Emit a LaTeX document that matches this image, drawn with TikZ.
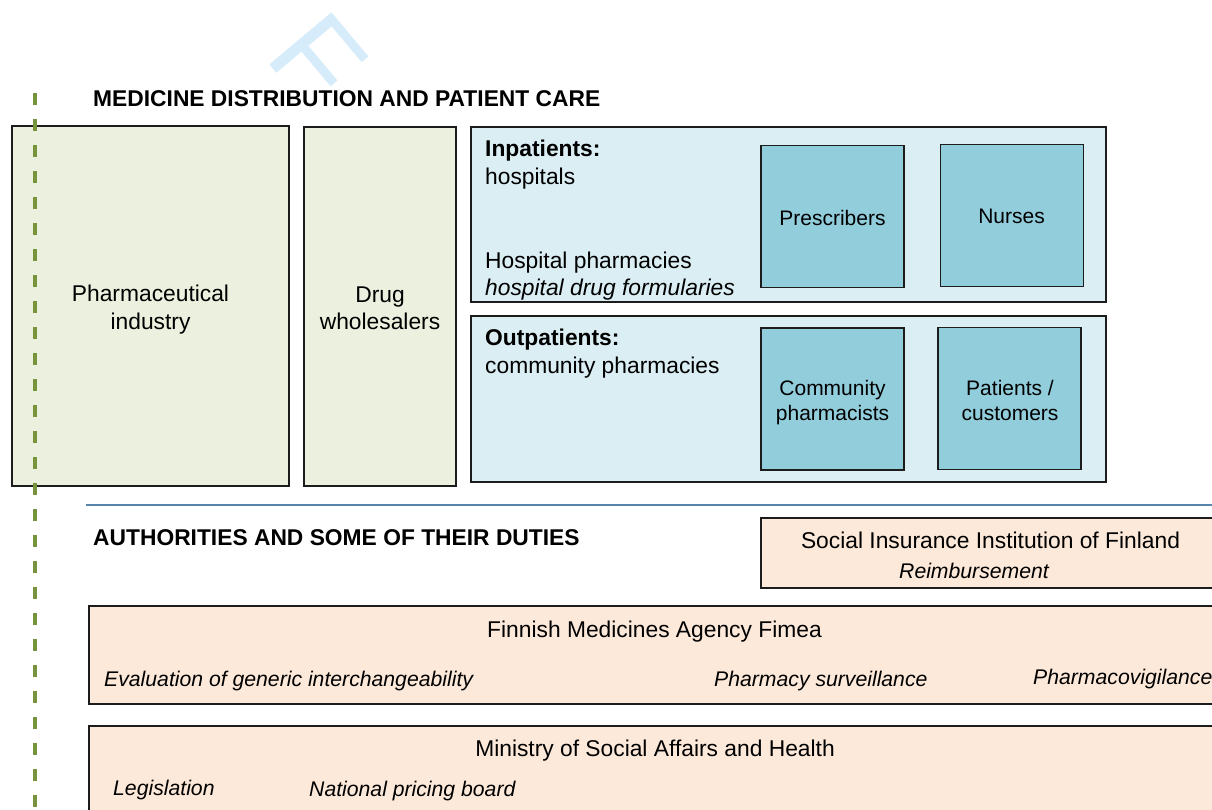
\documentclass[tikz,border=0pt]{standalone}
\usepackage{fontspec}
\setmainfont{Liberation Sans}
\definecolor{edge}{RGB}{28,28,28}
\definecolor{greenfill}{RGB}{235,241,222}
\definecolor{carefill}{RGB}{218,238,243}
\definecolor{rolefill}{RGB}{146,205,220}
\definecolor{agencyfill}{RGB}{253,233,217}
\definecolor{rulecol}{RGB}{88,132,176}
\definecolor{dashcol}{RGB}{119,147,60}
\definecolor{wmblue}{RGB}{214,236,250}
\newcommand\fbody{\fontsize{22.8}{28}\selectfont}
\newcommand\frole{\fontsize{21}{25}\selectfont}
\newcommand\fhead{\fontsize{22.8}{28}\selectfont\bfseries}
\newcommand\fduty{\fontsize{21.2}{25}\selectfont\itshape}
\newcommand\fitem{\fontsize{22.8}{28}\selectfont\itshape}
\begin{document}
\begin{tikzpicture}[x=1pt,y=-1pt,
  frame/.style={draw=edge, line width=1.5pt, inner sep=0pt, align=center},
  supply/.style={frame, fill=greenfill},
  care/.style={frame, fill=carefill},
  role/.style={frame, fill=rolefill, minimum width=143pt, minimum height=142pt},
  agency/.style={frame, fill=agencyfill},
  lbl/.style={inner sep=0pt, anchor=base west},
  ctr/.style={inner sep=0pt, anchor=base},
  rule/.style={draw=rulecol, line width=1.8pt},
  timeline/.style={draw=dashcol, line width=3.5pt, dash pattern=on 12pt off 14pt}]
\clip (0,0) rectangle (1212,809);
\fill[white] (0,0) rectangle (1212,809);

% faint watermark letter
\node[inner sep=0pt, anchor=base west, rotate=-50, text=wmblue,
      font=\fontsize{118}{118}\selectfont] (wm) at (263,57.5) {F};

% ---- distribution chain and patient care ----
\node[lbl, font=\fhead] (distTitle) at (93,106) {MEDICINE DISTRIBUTION AND PATIENT CARE};

\node[supply, minimum width=277pt, minimum height=360pt] (pharma) at (150.5,306) {};
\node[ctr, font=\fbody] (pharmaA) at (150.5,301) {Pharmaceutical};
\node[ctr, font=\fbody] (pharmaB) at (150.5,329) {industry};

\node[supply, minimum width=152pt, minimum height=359pt] (whole) at (380,306.5) {};
\node[ctr, font=\fbody] (wholeA) at (380,302) {Drug};
\node[ctr, font=\fbody] (wholeB) at (380,329.5) {wholesalers};

\node[care, minimum width=635pt, minimum height=175pt] (inpat) at (788.5,214.5) {};
\node[care, minimum width=635pt, minimum height=166pt] (outpat) at (788.5,399) {};

\node[lbl, font=\fhead] (inTitle) at (485,156) {Inpatients:};
\node[lbl, font=\fbody] (inHosp) at (485,184) {hospitals};
\node[lbl, font=\fbody] (inPharm) at (485,268) {Hospital pharmacies};
\node[lbl, font=\fitem] (inForm) at (485,295) {hospital drug formularies};

\node[lbl, font=\fhead] (outTitle) at (485,345) {Outpatients:};
\node[lbl, font=\fbody] (outPharm) at (485,373) {community pharmacies};

\node[role] (presc) at (832.5,216.5) {};
\node[ctr, font=\frole] (prescT) at (832.5,225) {Prescribers};
\node[role] (nurse) at (1012,215.5) {};
\node[ctr, font=\frole] (nurseT) at (1011.5,223) {Nurses};
\node[role] (cpharm) at (832.5,399) {};
\node[ctr, font=\frole] (cpharmA) at (832.5,395) {Community};
\node[ctr, font=\frole] (cpharmB) at (832.5,420) {pharmacists};
\node[role] (patient) at (1009.5,398.5) {};
\node[ctr, font=\frole] (patientA) at (1010,395) {Patients /};
\node[ctr, font=\frole] (patientB) at (1010,420) {customers};

% ---- separator ----
\coordinate (ruleL) at (86,505);
\coordinate (ruleR) at (1216,505);
\draw[rule] (ruleL) -- (ruleR);

% ---- authorities ----
\node[lbl, font=\fhead] (authTitle) at (93,545) {AUTHORITIES AND SOME OF THEIR DUTIES};

\node[agency, minimum width=459pt, minimum height=70pt] (kela) at (990.5,553) {};
\node[ctr, font=\fbody] (kelaName) at (990.5,548) {Social Insurance Institution of Finland};
\node[ctr, font=\fduty] (kelaDuty) at (974,578) {Reimbursement};

\node[agency, minimum width=1131pt, minimum height=98pt] (fimea) at (654.5,655) {};
\node[ctr, font=\fbody] (fimeaName) at (654.5,637) {Finnish Medicines Agency Fimea};
\node[lbl, font=\fduty] (fimeaA) at (104,686) {Evaluation of generic interchangeability};
\node[lbl, font=\fduty] (fimeaB) at (714,686) {Pharmacy surveillance};
\node[lbl, font=\fduty] (fimeaC) at (1033,684) {Pharmacovigilance};

\node[agency, minimum width=1131pt, minimum height=140pt] (stm) at (654.5,796) {};
\node[ctr, font=\fbody] (stmName) at (655,756) {Ministry of Social Affairs and Health};
\node[lbl, font=\fduty] (stmA) at (113,795) {Legislation};
\node[lbl, font=\fduty] (stmB) at (309,796) {National pricing board};

% ---- dashed guide line ----
\coordinate (lineTop) at (35,93);
\coordinate (lineBot) at (35,815);
\draw[timeline] (lineTop) -- (lineBot);
\end{tikzpicture}
\end{document}
